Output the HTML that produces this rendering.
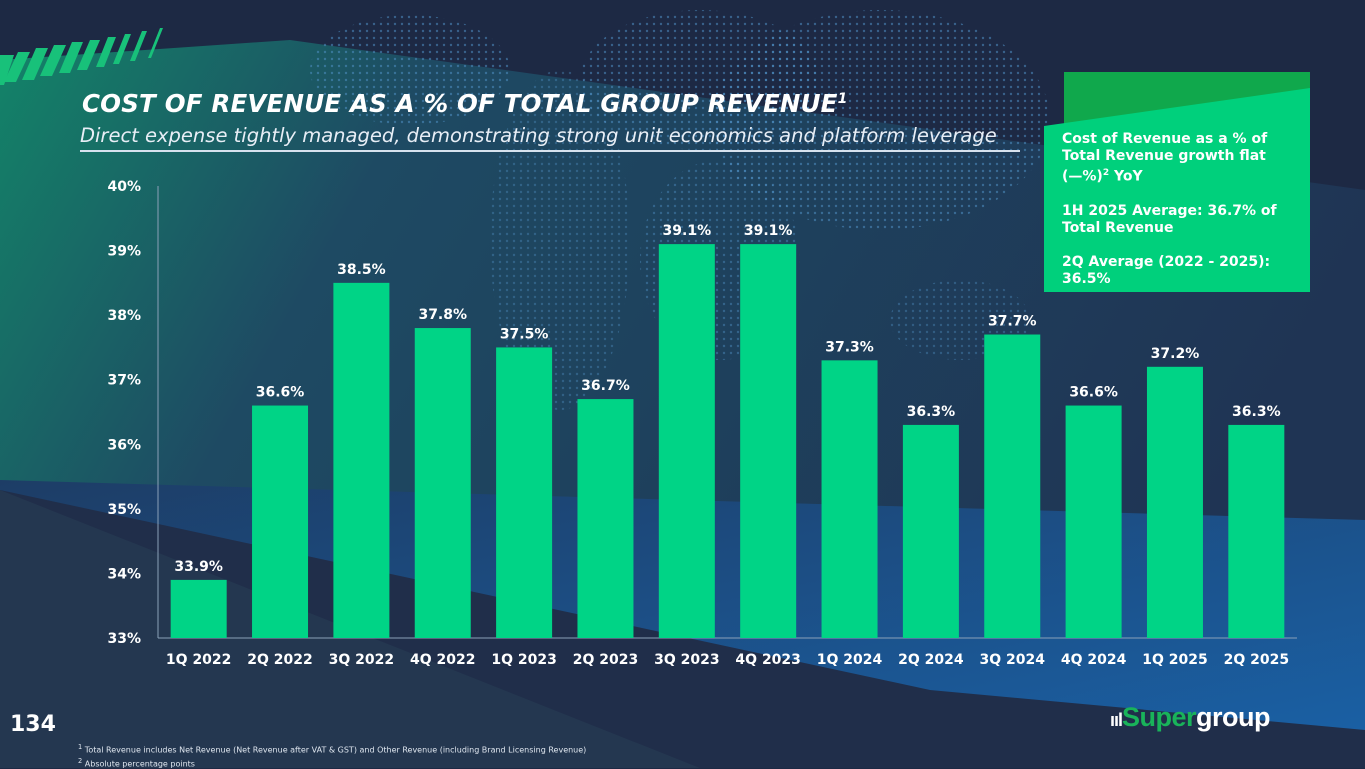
<!DOCTYPE html>
<html><head><meta charset="utf-8"><style>
body{margin:0;width:1365px;height:768px;overflow:hidden;background:#1d2944;font-family:"DejaVu Sans","Liberation Sans",sans-serif;}
#root{position:relative;width:1365px;height:768px;}
.abs{position:absolute;}
</style></head><body>
<div id="root">
<svg class="abs" style="left:0;top:0" width="1365" height="768">
<defs>
<linearGradient id="g1" x1="0" y1="0" x2="1" y2="0.3"><stop offset="0" stop-color="#138468"/><stop offset="0.3" stop-color="#1e4a63"/><stop offset="1" stop-color="#1f3454"/></linearGradient>
<linearGradient id="g2" x1="0" y1="0" x2="1" y2="1"><stop offset="0" stop-color="#1d3d66"/><stop offset="1" stop-color="#1a62a8"/></linearGradient>
<pattern id="dots" width="7" height="7" patternUnits="userSpaceOnUse"><circle cx="3" cy="3" r="1.2" fill="#4f8fc4" opacity="0.55"/></pattern>
</defs>
<polygon points="0,60 290,40 1365,190 1365,768 0,768" fill="url(#g1)"/>
<polygon points="0,480 1365,520 1365,768 900,768 0,500" fill="url(#g2)"/>
<polygon points="0,490 930,690 1365,730 1365,768 0,768" fill="#202e4a"/>
<polygon points="0,490 700,768 0,768" fill="#243750"/>
<ellipse cx="410" cy="70" rx="100" ry="55" fill="url(#dots)"/>
<ellipse cx="560" cy="240" rx="70" ry="170" fill="url(#dots)" opacity="0.7"/>
<ellipse cx="700" cy="80" rx="120" ry="70" fill="url(#dots)"/>
<ellipse cx="880" cy="120" rx="170" ry="110" fill="url(#dots)"/>
<ellipse cx="720" cy="260" rx="80" ry="100" fill="url(#dots)" opacity="0.8"/>
<ellipse cx="960" cy="320" rx="70" ry="40" fill="url(#dots)" opacity="0.7"/>
<g fill="#18c17a">
<polygon points="0,55 14,55 4,85 0,85"/><polygon points="18,52 30,52 16,82 4,82"/>
<polygon points="36,48 48,48 34,80 22,80"/><polygon points="54,45 66,45 52,76 40,76"/>
<polygon points="72,42 83,42 70,73 59,73"/><polygon points="90,40 100,40 87,70 77,70"/>
<polygon points="108,37 116,37 104,67 96,67"/><polygon points="125,34 131,34 119,64 113,64"/>
<polygon points="142,31 147,31 135,61 130,61"/><polygon points="160,28 163,28 151,58 148,58"/>
</g>
</svg>
<div class="abs" style="left:82px;top:89px;color:#fff;font-size:24.5px;font-weight:bold;font-style:italic;letter-spacing:0.2px">COST OF REVENUE AS A % OF TOTAL GROUP REVENUE<sup style="font-size:14px">1</sup></div>
<div class="abs" style="left:80px;top:124px;width:940px;border-bottom:2px solid #d7e2ee;color:#e8eef6;font-size:19.5px;font-style:italic;padding-bottom:3px;white-space:nowrap">Direct expense tightly managed, demonstrating strong unit economics and platform leverage</div>
<svg class="abs" style="left:1040px;top:70px" width="272" height="226">
<polygon points="24,2 270,2 270,20 24,60" fill="#10a84c"/>
<polygon points="4,56 270,18 270,222 4,222" fill="#00d07c"/>
</svg>
<div class="abs" style="left:1062px;top:131px;color:#fff;font-size:14px;font-weight:bold;line-height:17px;width:228px">Cost of Revenue as a % of Total Revenue growth flat<br>(—%)<sup style="font-size:9px">2</sup> YoY<br><br>1H 2025 Average: 36.7% of Total Revenue<br><br>2Q Average (2022 - 2025): 36.5%</div>
<svg id="chart" class="abs" style="left:0;top:0" width="1365" height="768"></svg>
<div class="abs" style="left:10px;top:712px;color:#fff;font-size:22px;font-weight:bold">134</div>
<div class="abs" style="left:78px;top:742px;color:#dfe6ef;font-size:8px;line-height:10px"><sup>1</sup> Total Revenue includes Net Revenue (Net Revenue after VAT &amp; GST) and Other Revenue (including Brand Licensing Revenue)<br><sup>2</sup> Absolute percentage points</div>
<div class="abs" style="left:1110px;top:702px;font-family:'Liberation Sans',sans-serif;font-weight:bold;font-size:27px;letter-spacing:-0.5px"><span style="color:#fff;font-size:18px;letter-spacing:-1px">ııl</span><span style="color:#19b35a">Super</span><span style="color:#fff">group</span></div>
</div>
<script>
const categories=["1Q 2022","2Q 2022","3Q 2022","4Q 2022","1Q 2023","2Q 2023","3Q 2023","4Q 2023","1Q 2024","2Q 2024","3Q 2024","4Q 2024","1Q 2025","2Q 2025"];
const values=[33.9,36.6,38.5,37.8,37.5,36.7,39.1,39.1,37.3,36.3,37.7,36.6,37.2,36.3];
const valueLabels=["33.9%","36.6%","38.5%","37.8%","37.5%","36.7%","39.1%","39.1%","37.3%","36.3%","37.7%","36.6%","37.2%","36.3%"];
const yTicks=[33,34,35,36,37,38,39,40];
const svg=document.getElementById('chart');
const NS='http://www.w3.org/2000/svg';
const yMin=33,yMax=40,yTop=186,yBot=638,x0=158,x1=1297;
const y=v=>yBot-(v-yMin)/(yMax-yMin)*(yBot-yTop);
const step=(x1-x0)/categories.length;
const bx=i=>x0+step*i+(step-56)/2;
function mk(t,a,txt){const e=document.createElementNS(NS,t);for(const k in a)e.setAttribute(k,a[k]);if(txt!=null)e.textContent=txt;svg.appendChild(e);return e;}
let ax=mk('line',{x1:x0,y1:yTop,x2:x0,y2:yBot,stroke:'#8aa0b8','stroke-width':1});


let bx0=mk('line',{x1:x0,y1:yBot,x2:x1,y2:yBot,stroke:'#8aa0b8','stroke-width':1});


yTicks.forEach(t=>{
 const e=mk('text',{x:141,y:y(t)+5,'text-anchor':'end',fill:'#fff','font-size':14,'font-weight':'bold','font-family':'DejaVu Sans,sans-serif'},t+'%');
 
 
});
categories.forEach((c,i)=>{
 const r=mk('rect',{x:bx(i),y:y(values[i]),width:56,height:yBot-y(values[i]),fill:'#00d486'});
 
 
 const l=mk('text',{x:bx(i)+28,y:y(values[i])-9,'text-anchor':'middle',fill:'#fff','font-size':14,'font-weight':'bold','font-family':'DejaVu Sans,sans-serif'},valueLabels[i]);
 
 
 const xl=mk('text',{x:bx(i)+28,y:664,'text-anchor':'middle',fill:'#fff','font-size':14,'font-weight':'bold','font-family':'DejaVu Sans,sans-serif'},c);
 
 
});
</script>
</body></html>
